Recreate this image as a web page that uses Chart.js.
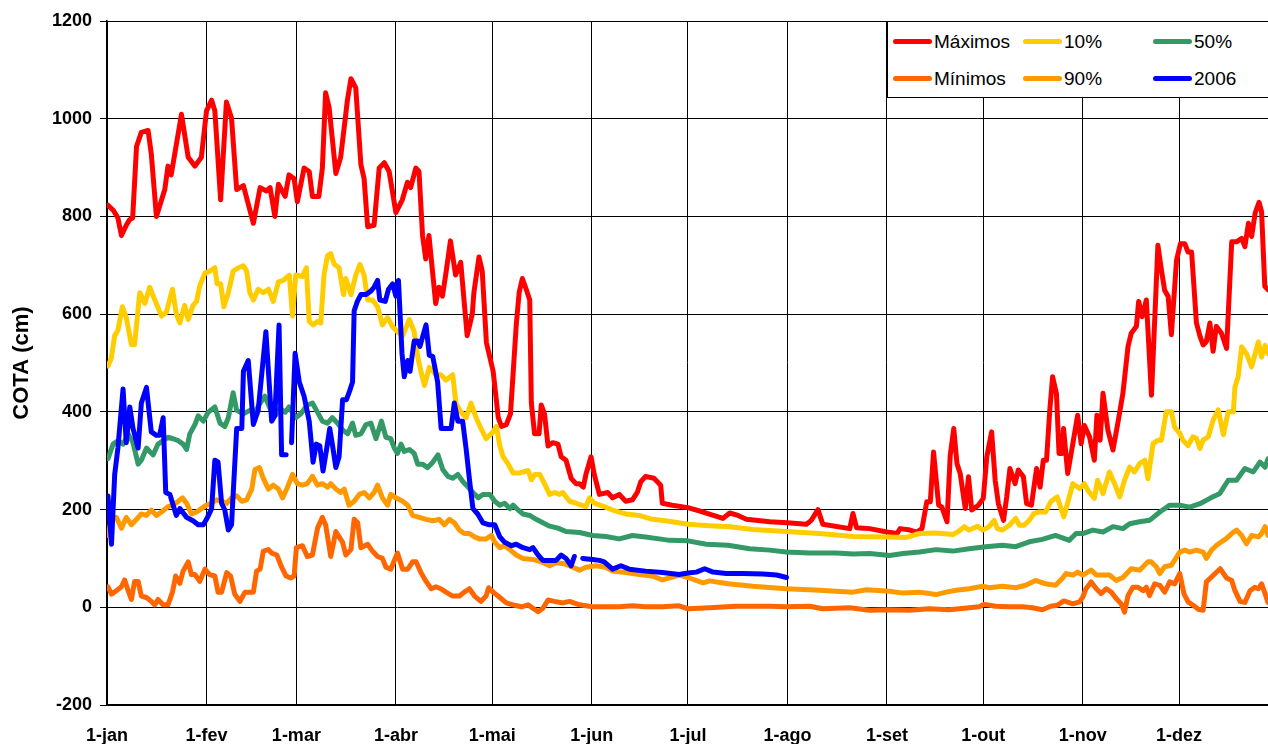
<!DOCTYPE html>
<html>
<head>
<meta charset="utf-8">
<script src="https://cdn.jsdelivr.net/npm/chart.js@4.4.1/dist/chart.umd.min.js"></script>
<style>
    body { margin: 0; background: #fff; }
    #wrap { position: relative; width: 1268px; height: 744px; overflow: hidden; }
    #legend {
        position: absolute; left: 887px; top: 21px; width: 400px; height: 77px;
        box-sizing: border-box; background: #fff; border: 1px solid #000;
        display: grid; grid-template-columns: 130px 130px 130px; grid-template-rows: 37px 37px;
        padding: 1px 0 0 5px;
        font: 19px "Liberation Sans", Arial, sans-serif; color: #000;
    }
    #legend .item { display: flex; align-items: center; }
    #legend .swatch { width: 39px; height: 5px; border-radius: 3px; margin-right: 2px; }
</style>
</head>
<body>
<div id="wrap">
    <canvas id="cotaChart" width="1268" height="744"></canvas>
    <div id="legend"></div>
</div>
<script>
// Month ticks (day of year) and labels
const monthDays = [0, 31, 59, 90, 120, 151, 181, 212, 243, 273, 304, 334];
const monthLabels = ['1-jan', '1-fev', '1-mar', '1-abr', '1-mai', '1-jun', '1-jul', '1-ago', '1-set', '1-out', '1-nov', '1-dez'];

// Máximos
const maxDays = [0.3, 2, 3.4, 4.5, 6, 7, 8, 9.2, 10.7, 12.8, 13.8, 15.4, 18, 19, 20, 23.2, 25.3, 27.4, 29.4, 31, 32.6, 33.6, 35.4, 37.2, 38.8, 40.4, 42.5, 45.6, 47.7, 49.7, 50.8, 52.3, 53.4, 55.5,
    56.7, 58.3, 59.3, 61.4, 63, 64, 66, 67.1, 68.1, 69.2, 71.3, 72.8, 74.9, 76, 77.5, 79.1, 80.1, 81.2, 83.2, 84.8, 86.4, 87.9, 90, 92, 93.6, 94.6, 96.2, 97.2, 98.3, 99.3, 100.3, 102.4, 103.4, 104.5, 105.5, 107, 108.6, 110.2, 112.2, 113.8, 114.3, 115.9, 116.9,
    118.2, 120.3, 121.9, 122.9, 124.4, 125.7, 126.5, 127.5, 128.4, 129.4, 130.6, 131.7, 132.2, 133.2, 134.6, 135.3, 136.3, 137.4, 138.9, 140.5, 141.5, 143, 144.6, 146.1, 147.2, 148.4, 149.2, 150.8, 151.8, 153.4, 156, 157.5, 159.6, 161.6, 163.7, 165.2, 166.3, 167.8, 170.4, 172.5, 173, 176.1,
    181, 185.7, 191.9, 194, 196.6, 199.2, 206.5, 212, 217.9, 219.4, 221.5, 223, 231.4, 232.4, 233.5, 237.6,
    243, 246.1, 247.1, 250.2, 252.3, 253.9, 255.4, 256.5, 257.5, 259.1, 260.1, 261.7, 262.7, 263.8, 264.8, 265.8, 267.4, 268.4, 269.4, 271.5, 273, 274.1, 275.6, 276.7, 277.7, 279.3, 280.3, 281.3, 282.9, 283.9, 285.5, 286.5, 288, 289.6, 290.7, 291.7, 292.7, 293.7, 294.6, 295.8, 296.6, 297.6,
    298, 299.3, 300.9, 302.4, 303.5, 304.5, 306.1, 307.6, 308.4, 309.4, 310.3, 311.8, 313.4, 315, 316.5, 318.1, 319.1, 320.7, 321.4, 322.5, 323.8, 325.4, 327.4, 328.5, 329.5, 330.6, 331.6, 333.2, 334.4, 335.8, 336.8, 337.9, 339.4, 340.5, 341.5, 342.5, 343.6, 344.6, 345.6, 347.2, 348.8, 350.4, 351.9, 353.5, 354.5, 355.6, 356.6, 357.7, 358.9, 359.7, 360.7, 361.7];
const maxVals = [823, 812, 797, 761, 782, 793, 797, 943, 972, 976, 928, 800, 855, 903, 885, 1009, 921, 903, 921, 1016, 1038, 1016, 834, 1034, 1001, 855, 863, 786, 859, 852, 859, 800, 866, 841,
    885, 877, 830, 899, 892, 841, 841, 899, 1053, 1023, 888, 921, 1038, 1082, 1063, 906, 877, 779, 782, 899, 910, 892, 808, 834, 870, 859, 899, 892, 761, 713, 761, 622, 655, 637, 680, 750, 680, 706, 556, 600, 644, 717, 688,
    542, 483, 388, 370, 374, 396, 476, 578, 644, 673, 651, 629, 418, 355, 355, 414, 396, 330, 337, 334, 308, 301, 264, 253, 253, 246, 272, 308, 272, 231, 235, 224, 231, 217, 220, 235, 257, 268, 264, 250, 213, 209,
    204, 195, 182, 193, 188, 180, 175, 173, 170, 178, 200, 170, 161, 192, 163, 161,
    154, 151, 161, 158, 154, 161, 216, 216, 318, 209, 205, 175, 311, 366, 294, 274, 202, 267, 199, 209, 223, 308, 359, 260, 212, 178, 226, 284, 253, 281, 267, 212, 209, 284, 246, 301, 301, 402, 472, 437, 315, 315,
    366, 274, 335, 393, 335, 372, 349, 301, 393, 342, 438, 363, 322, 380, 438, 534, 561, 575, 626, 595, 629, 434, 741, 690, 649, 636, 558, 710, 744, 744, 727, 727, 582, 555, 537, 544, 582, 524, 575, 561, 530, 748, 748, 755, 738, 786, 759, 807, 829, 810, 657, 650];

// 10%
const p10Days = [0.3, 1.3, 2.4, 3.4, 4.8, 6, 7.6, 8.6, 10.2, 11.8, 13.3, 14.9, 17, 18.5, 20.4, 21.6, 22.7, 24.2, 25.3, 26.8, 27.9, 28.9, 30.5, 32, 33.6, 34.3, 35.4, 36.4, 37.8, 39.3, 40.9, 42.5, 43.5, 44.5, 45.6, 47.1, 48.7, 50.3, 51.8, 53.4, 54.9, 56.8,
    57.8, 58.8, 60.9, 62.1, 63, 64.2, 65.6, 66.6, 67.6, 68.7, 69.7, 70.8, 72.3, 73.7, 74.4, 76, 77.5, 78.8, 80.1, 81.2, 82.7, 84.3, 85.8, 87.4, 89, 90.5, 92.1, 94.2, 95.7, 96.8, 97.8, 98.9, 100.4, 102.5, 104, 105.6, 107.7, 108.7, 110.3, 111.9, 113.4, 115, 116.5, 118.1,
    120.3, 121.3, 122.4, 123.4, 125, 126.5, 128.6, 131.2, 132.2, 133.3, 134.8, 136.3, 137.9, 139.4, 141, 142, 144.1, 146.1, 147.7, 149.2, 150.3, 151.8, 154.9, 157.5, 161.6, 165.8, 169.9, 174,
    181, 187.7, 194, 201.2, 211.6, 222, 232.4, 243,
    249, 253.1, 258.3, 263.5, 265, 267.1, 268.6, 271.2, 272.8, 274.8, 276.4, 277.4, 279, 281.1, 283.1, 284.2, 285.7, 287.3, 288.8, 290.4, 292.4, 294, 296, 298.1,
    300.9, 303, 304.5, 305.6, 307.6, 308.6, 310.3, 312.3, 313.9, 315.5, 317, 318.6, 320.1, 321.7, 323.3, 324.3, 325.9, 327.4, 328.5, 330, 331.6, 332.6, 334.2, 335.2, 336.8, 338.3, 339.4, 340.5, 341.5, 343.1, 344.6, 346.2, 347.8, 349.3, 350.9, 351.4, 352.4, 353.5, 355, 356.6, 357.7, 358.7, 359.7, 360.8, 361.7];
const p10Vals = [494, 509, 556, 567, 615, 593, 538, 538, 644, 622, 655, 629, 596, 604, 651, 600, 582, 618, 589, 618, 626, 658, 684, 688, 695, 662, 662, 615, 644, 688, 695, 699, 688, 644, 629, 651, 644, 651, 626, 666, 669, 680,
    596, 680, 677, 695, 585, 578, 585, 582, 680, 720, 724, 702, 695, 640, 673, 640, 680, 702, 680, 629, 629, 615, 578, 593, 574, 564, 556, 589, 564, 512, 483, 454, 491, 476, 476, 465, 476, 418, 399, 388, 418, 388, 366, 345,
    359, 370, 330, 308, 293, 275, 275, 280, 261, 272, 272, 253, 231, 235, 231, 235, 217, 213, 209, 206, 224, 213, 206, 199, 191, 188, 180, 177,
    170, 167, 165, 159, 155, 151, 145, 144,
    143, 151, 152, 149, 154, 165, 158, 166, 158, 165, 178, 161, 158, 168, 182, 168, 168, 178, 192, 195, 195, 216, 226, 185,
    253, 243, 253, 239, 223, 260, 233, 277, 253, 226, 260, 287, 277, 294, 301, 263, 335, 342, 342, 400, 400, 369, 356, 342, 331, 349, 346, 325, 342, 349, 383, 404, 353, 400, 400, 451, 472, 533, 519, 492, 519, 543, 512, 536, 519];

// 50%
const p50Days = [0.3, 1.9, 3.4, 5, 6.6, 8.1, 9.7, 10.7, 12.3, 13.3, 14.4, 15.9, 17.5, 19, 20.6, 22.2, 23.7, 24.8, 25.8, 27.4, 28.4, 30, 31.5, 33.6, 35.2, 36.7, 37.8, 39.3, 40.4, 42.5, 44.5, 46.1, 47.7, 49.2, 50.8, 52.3, 53.9, 55.5,
    56.7, 58.8, 60.4, 62.4, 64, 65.6, 67.1, 68.7, 70.2, 71.8, 73.4, 75, 76.5, 77.5, 79.1, 80.7, 82.2, 83.8, 85.5, 86.9, 88.4, 89.5, 90.5, 91.6, 92.6, 94.2, 95.7, 96.8, 98.3, 99.9, 101.5, 103.1, 104.6, 106.2, 107.7, 109.3, 110.9, 112.5, 114, 115.7, 117.1,
    119.3, 120.8, 122.4, 123.9, 125.5, 126.5, 128.1, 129.6, 131.7, 133.7, 135.8, 137.9, 140.5, 143, 147.2, 151.3, 155.4, 159.6, 163.7, 167.8, 172,
    175.3, 181, 186.7, 193.5, 200.2, 206.5, 211.6, 218.9, 227.2, 232.4, 237.6, 243.8,
    248, 253.1, 258.3, 263.5, 268.6, 273.8, 279, 283.1, 287.3, 291.4, 295.5,
    299.8, 301.9, 304, 307.1, 310.3, 313.4, 316.5, 318.6, 321.7, 324.8, 328, 331.1, 334.2, 337.3, 340.5, 343.6, 346.7, 349.3, 351.9, 354.5, 357.1, 359.2, 360.8, 361.7];
const p50Vals = [304, 334, 341, 334, 355, 337, 293, 301, 326, 319, 312, 334, 341, 348, 345, 341, 334, 323, 355, 374, 392, 381, 399, 410, 377, 370, 388, 439, 403, 396, 403, 399, 418, 432, 407, 392, 407, 399,
    410, 388, 396, 414, 418, 399, 381, 377, 388, 377, 363, 355, 377, 352, 355, 374, 377, 345, 381, 348, 345, 326, 315, 334, 319, 323, 315, 293, 293, 286, 297, 312, 282, 268, 264, 272, 257, 246, 235, 224, 231,
    231, 217, 209, 213, 202, 209, 199, 191, 188, 180, 173, 166, 162, 155, 153, 147, 145, 140, 147, 144, 140,
    137, 136, 129, 127, 120, 117, 113, 111, 111, 109, 110, 106,
    110, 113, 118, 115, 120, 124, 127, 124, 134, 139, 147,
    137, 151, 151, 158, 154, 165, 161, 171, 175, 178, 195, 209, 209, 205, 212, 223, 233, 260, 260, 284, 277, 297, 287, 304];

// Mínimos
const minDays = [0.3, 1.4, 2.9, 4.5, 5.5, 6.6, 7.6, 8.6, 9.7, 10.7, 12.3, 13.8, 14.9, 15.9, 17.5, 19, 20.4, 21.4, 22.7, 23.7, 25.3, 26.3, 27.4, 28.9, 30.5, 32, 33.6, 34.6, 35.7, 37.3, 38.5, 39.8, 41.4, 43, 45.6, 46.6, 47.7, 48.7, 50.3, 51.3, 52.9, 54.4, 55.8, 57.2,
    58.3, 59, 60.9, 62.4, 64, 65.6, 67.1, 68.1, 69.7, 71.3, 73.4, 74.4, 76, 77, 78.1, 79.1, 81.2, 82.7, 84.3, 85.8, 86.9, 88.4, 90.5, 92.1, 93.7, 95.2, 96.3, 97.8, 99.4, 101, 102.5, 104, 105.6, 107.7, 109.8, 111.3, 112.9, 114.5, 116.5, 118.1, 118.9,
    120.3, 122.4, 124.4, 126.5, 129.1, 131.2, 132.7, 134.3, 135.8, 137.4, 139.4, 142, 144.1, 147.2, 151.3, 155.4, 159.6, 163.7, 167.8, 173, 178.2,
    181, 187.7, 196, 206.5, 211.6, 218.9, 223, 231.4, 237.6, 243.8,
    250, 256.2, 262.4, 268.6, 271.7, 273.3, 276.9, 281, 285.2, 288.3, 291.4, 294, 296, 298.1,
    300.9, 303, 304, 305, 306.6, 308.2, 309.7, 311.3, 312.9, 314.4, 316, 317, 318.1, 319.6, 321.2, 322.8, 323.8, 324.8, 326.4, 328, 329.5, 331.1, 332.6, 334.2, 335.5, 336.8, 338.4, 340, 341.5, 342.5, 344.1, 346.8, 348.8, 350.4, 351.4, 353, 354.5, 356.1, 357.6, 358.7, 359.7, 360.8, 361.7];
const minVals = [42, 27, 34, 42, 56, 34, 16, 53, 53, 23, 20, 12, 5, 16, 5, 5, 31, 64, 49, 74, 93, 67, 67, 53, 78, 67, 64, 31, 31, 71, 64, 27, 12, 31, 31, 74, 78, 115, 118, 111, 107, 82, 64, 60,
    64, 122, 126, 104, 107, 162, 184, 169, 104, 155, 133, 107, 118, 180, 173, 122, 129, 115, 104, 100, 82, 78, 111, 78, 78, 93, 93, 71, 53, 38, 42, 38, 31, 23, 23, 31, 38, 23, 12, 23, 40,
    31, 20, 9, 5, 1, 5, -2, -9, -2, 15, 12, 9, 12, 5, 1, 1, 1, 3, 1, 1, 3,
    -3, -1, 2, 2, 1, 2, -3, -1, -6, -5,
    -6, -3, -5, -1, 1, 6, 2, 1, 1, -1, -5, 2, 4, 13,
    7, 11, 21, 38, 52, 38, 28, 38, 31, 18, 7, -10, 24, 41, 41, 34, 41, 24, 48, 45, 31, 52, 48, 69, 28, 11, 4, -4, -6, 52, 62, 79, 60, 55, 34, 12, 10, 34, 41, 38, 48, 28, 10];

// 90%
const p90Days = [0.3, 1.4, 2.9, 4.5, 6, 7.6, 9.2, 10.7, 12.3, 13.8, 15.4, 17, 19, 20.6, 22.2, 23.5, 24.8, 26.3, 27.9, 29.4, 31, 32.6, 34.1, 35.7, 37.3, 38.8, 40.4, 42, 43.5, 45.1, 46.1, 47.5, 48.7, 50.3, 51.8, 53.4, 54.7, 56,
    57.8, 59.3, 60.9, 62.4, 64, 65.6, 67.1, 68.7, 69.7, 71.3, 72.8, 73.9, 75.4, 77, 78.6, 80.1, 81.7, 83.2, 84.3, 85.8, 87.4, 88.4, 90, 92.1, 93.7, 95.2, 97.3, 99.4, 101.5, 103.5, 105.1, 106.7, 108.2, 109.8, 111.3, 112.9, 114.5, 116, 118.1,
    119.8, 120.8, 122.4, 123.9, 125.5, 127.5, 129.6, 132.7, 135.3, 137.9, 139.9, 142.5, 145.1, 147.2, 149.2, 152.3, 155.4, 157.5, 161.6, 165.8, 169.9, 173,
    178.4, 181, 185.7, 187.7, 193.5, 201.2, 211.6, 222, 232.4, 236.6, 243.8,
    248, 253.1, 258.3, 261.4, 264.5, 268.6, 272.8, 274.8, 279, 283.1, 286.2, 289.3, 292.4, 295.5, 297.6,
    298.8, 300.9, 302.4, 304, 306.6, 308.2, 312.3, 314.4, 316.5, 319.1, 321.7, 324.3, 325.3, 326.9, 328, 329.5, 331.6, 334.2, 335.8, 337.3, 339.4, 341.5, 342.5, 344.1, 345.7, 347.2, 348.8, 350.4, 351.9, 353.5, 355, 356.6, 358.7, 359.7, 360.8, 361.7];
const p90Vals = [147, 184, 184, 162, 184, 169, 180, 191, 188, 199, 188, 195, 206, 209, 217, 224, 213, 191, 195, 202, 209, 213, 220, 217, 213, 224, 228, 217, 220, 242, 282, 286, 264, 242, 250, 242, 224, 242,
    272, 253, 250, 253, 268, 250, 253, 246, 253, 242, 235, 242, 209, 217, 231, 235, 224, 235, 250, 224, 209, 231, 224, 217, 209, 188, 184, 180, 177, 180, 169, 180, 173, 158, 151, 151, 144, 140, 140,
    147, 133, 122, 126, 118, 107, 100, 98, 93, 85, 91, 89, 82, 76, 82, 85, 82, 74, 71, 67, 64, 56,
    66, 61, 50, 54, 48, 43, 38, 35, 31, 36, 33,
    29, 31, 26, 31, 35, 38, 43, 40, 43, 40, 45, 55, 48, 45, 59,
    69, 66, 72, 66, 76, 66, 66, 55, 61, 79, 76, 93, 93, 83, 69, 83, 86, 113, 117, 113, 117, 113, 100, 117, 127, 134, 141, 151, 158, 147, 130, 147, 144, 151, 165, 147];

// 2006 (null = falha nos dados)
const y2006Days = [0.3, 1.4, 2.4, 3.4, 5, 6, 7.1, 8.1, 9.7, 10.7, 12.3, 13.8, 15.4, 16.4, 17.5, 18.3, 19.6, 21.6, 22.7, 24.8, 26.8, 28.4, 30, 31, 32.6, 33.6, 34.6, 35.7, 36.7, 37.8, 38.8, 40.4, 42, 42.5, 44, 45.6, 47.1, 49.5, 51.3, 52.3, 53.6, 54.4, 55.8, 56.6, 57.5, 58.6, 59.9,
    61.4, 63, 64.2, 65.2, 66.3, 67.3, 68.4, 69.4, 70.2, 71.3, 72.3, 73.4, 74.6, 75.6, 76.5, 77, 78, 79.1, 80.6, 82.2, 83.2, 84.3, 85, 86.7, 87.7, 89, 90, 90.8, 91.9, 92.6, 93.7, 94.4, 95.7, 96.8, 97.5, 98.3, 99.4, 100.4, 101.5, 103, 104.1, 105.6, 107.2, 108.2, 109.3, 110.8, 111.9, 113, 114, 115.5, 117.1, 118.9,
    120.8, 122.4, 123.9, 126, 127.5, 129.6, 131.7, 132.7, 134.3, 135.8, 138.4, 139.9, 141.5, 143, 144.6, 145.6, 146.9, 148.2, 151.3, 153.4, 154.9, 157.5, 160.1, 162.7, 167.8, 173, 178.2,
    181, 183.6, 186.2, 188.8, 192.9, 198.1, 204.4, 208.6, 211.7];
const y2006Vals = [228, 129, 272, 326, 447, 337, 410, 366, 326, 418, 450, 359, 352, 352, 388, 235, 231, 188, 202, 184, 177, 169, 169, 180, 202, 301, 297, 213, 199, 158, 169, 366, 366, 483, 505, 374, 403, 564, 381, 392, 578, 312, 312, null, 337, 520, 461,
    432, 381, 297, 334, 330, 279, 323, 366, 334, 286, 308, 425, 425, 443, 461, 607, 626, 640, 640, 647, 655, 669, 629, 626, 651, 662, 637, 669, 520, 472, 505, 483, 545, 545, 534, 553, 578, 516, 513, 461, 366, 366, 366, 418, 381, 381, 323, 257, 202, 191, 173, 169,
    169, 144, 133, 126, 129, 122, 118, 122, 107, 96, 96, 96, 107, 100, 85, 104, null, 100, 98, 96, 93, 78, 85, 78, 74, 71, 67,
    70, 72, 79, 72, 69, 69, 68, 66, 61];

function toPoints(days, vals) {
    return days.map((d, i) => ({ x: d, y: vals[i] }));
}

const series = [
    { label: 'Máximos', color: '#FF0000', days: maxDays, vals: maxVals },
    { label: '10%', color: '#FFCC00', days: p10Days, vals: p10Vals },
    { label: '50%', color: '#339966', days: p50Days, vals: p50Vals },
    { label: 'Mínimos', color: '#FF6600', days: minDays, vals: minVals },
    { label: '90%', color: '#FF9900', days: p90Days, vals: p90Vals },
    { label: '2006', color: '#0000FF', days: y2006Days, vals: y2006Vals }
];

const boldFont = { family: '"Liberation Sans", Arial, sans-serif', size: 18, weight: 'bold' };

const ctx = document.getElementById('cotaChart').getContext('2d');
new Chart(ctx, {
    type: 'line',
    data: {
        datasets: series.map((s, i) => ({
            label: s.label,
            data: toPoints(s.days, s.vals),
            borderColor: s.color,
            backgroundColor: s.color,
            borderWidth: 5,
            pointRadius: 0,
            tension: 0,
            spanGaps: false,
            borderCapStyle: 'round',
            borderJoinStyle: 'round',
            order: series.length - i   // later series drawn on top
        }))
    },
    options: {
        responsive: false,
        animation: false,
        layout: { padding: { top: 21, right: 0, bottom: 0, left: 0 } },
        plugins: {
            legend: { display: false },
            tooltip: { enabled: false }
        },
        scales: {
            x: {
                type: 'linear',
                min: 0,
                max: 361.7,
                afterBuildTicks: function(scale) {
                    scale.ticks = monthDays.map(v => ({ value: v }));
                },
                afterFit: function(scale) {
                    scale.height = 39;
                },
                ticks: {
                    autoSkip: false,
                    maxRotation: 0,
                    padding: 20,
                    color: '#000',
                    font: boldFont,
                    callback: function(value, index) {
                        return monthLabels[index];
                    }
                },
                grid: { color: '#000', lineWidth: 1, drawTicks: false },
                border: { color: '#000', width: 1.5 }
            },
            y: {
                min: -200,
                max: 1200,
                afterFit: function(scale) {
                    scale.width = 107;
                },
                ticks: {
                    stepSize: 200,
                    padding: 8,
                    color: '#000',
                    font: boldFont,
                    callback: function(value) {
                        return String(value);
                    }
                },
                grid: { color: '#000', lineWidth: 1, tickLength: 7 },
                border: { color: '#000', width: 1.5 },
                title: {
                    display: true,
                    text: 'COTA (cm)',
                    color: '#000',
                    padding: { top: 9, bottom: 0 },
                    font: { family: '"Liberation Sans", Arial, sans-serif', size: 22, weight: 'bold' }
                }
            }
        }
    }
});

// HTML legend inside the plot (top right)
const legend = document.getElementById('legend');
series.forEach(s => {
    const item = document.createElement('div');
    item.className = 'item';
    item.innerHTML = `<span class="swatch" style="background:${s.color}"></span><span>${s.label}</span>`;
    legend.appendChild(item);
});
</script>
</body>
</html>
